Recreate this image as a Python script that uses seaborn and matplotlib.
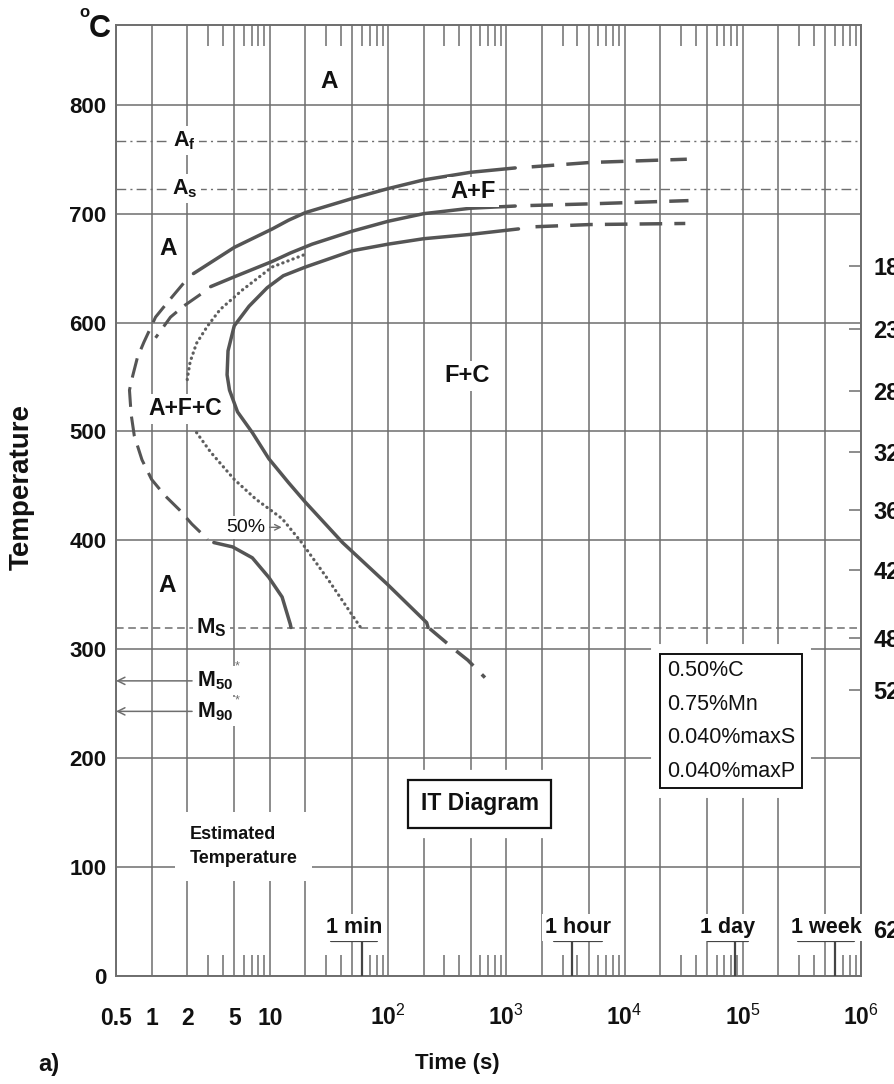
import matplotlib
matplotlib.use("Agg")
import matplotlib.pyplot as plt
import seaborn as sns
import numpy as np
from matplotlib import font_manager
from matplotlib.ticker import FixedLocator, FixedFormatter


def pick_family(candidates):
    for fam in candidates:
        try:
            font_manager.findfont(font_manager.FontProperties(family=fam),
                                  fallback_to_default=False)
            return fam
        except Exception:
            continue
    return "DejaVu Sans"


NARROW = pick_family(["Liberation Sans Narrow", "Liberation Sans", "DejaVu Sans"])
WIDE = pick_family(["Liberation Sans", "DejaVu Sans"])

# ---------------- data (time in s, temperature in °C) ----------------
# ferrite start: solid part, long-dash extension to the right
fs_t = [2.26, 5, 10.5, 14.4, 20, 50, 100, 200, 500, 1190]
fs_T = [645, 669, 686, 694, 701, 714, 723, 731, 738, 742]
fs_ext_t = [1640, 5090, 33650]
fs_ext_T = [743, 747, 750]

# estimated start curve through the nose (dashed) down to bainite start
nose_t = [1.86, 1.35, 1.08, 0.861, 0.759, 0.692, 0.650, 0.671, 0.714, 0.829,
          1.0, 1.30, 1.72, 2.19, 2.98]
nose_T = [636, 618, 605, 582, 568, 551, 538, 516, 496, 474,
          456, 441, 428, 415, 401]
bs_t = [3.36, 4.85, 7.11, 9.81, 12.7, 14.9, 15.1]
bs_T = [398, 394, 384, 366, 348, 323, 320]

# pearlite start
ps_t = [3.16, 5, 10.4, 15, 22.8, 50, 100, 200, 500, 1190]
ps_T = [633, 642, 656, 664, 672, 684, 693, 700, 705, 707]
ps_ext_t = [1600, 5090, 34750]
ps_ext_T = [707.5, 709, 712]
ps_left_t = [2.6, 1.86, 1.445, 1.08]
ps_left_T = [626, 615, 605, 586]

# transformation finish
fin_t = [1268, 500, 200, 100, 50, 20, 13, 9.5, 6.67, 5.0, 4.43, 4.35, 4.56,
         5.33, 7.11, 9.81, 14.4, 20, 41.2, 98, 212, 218]
fin_T = [686, 681, 677, 672, 666, 651, 643, 632, 615, 597, 574, 552, 538,
         518, 499, 475, 453, 435, 398, 360, 324.5, 320]
fin_ext_t = [1766, 5090, 32650]
fin_ext_T = [688, 690, 691]
fin_low_t = [225, 372, 473, 660]
fin_low_T = [319, 299, 290, 274]

# 50 % transformation (dotted)
half_up_t = [19.2, 10.45, 5.87, 3.8, 2.98, 2.40, 2.12, 2.0, 2.03]
half_up_T = [662, 651, 630, 612, 597, 581, 564, 548, 545]
half_lo_t = [2.40, 3.16, 5.0, 7.59, 12.7, 18.6, 31.6, 58.6]
half_lo_T = [499, 481, 456, 438, 420, 398, 363, 320]

# critical temperatures
A_F, A_S, M_S, M_50, M_90 = 767, 723, 320, 271, 243

# hardness (HRC) scale on the right
hrc_T = [652, 594, 537, 481, 428, 373, 310, 263, 43]
hrc_labels = ["18", "23", "28", "32", "36", "42", "48", "52", "62"]

# time scale landmarks
mark_labels = ["1 min", "1 hour", "1 day", "1 week"]
mark_t = [60, 3600, 86400, 604800]
mark_left = [33, 2540, 50900, 293000]
mark_right = [80, 6460, 110300, 881000]
mark_level = 32

x_major = [0.5, 1, 2, 5, 10, 20, 50, 100, 200, 500, 1e3, 2e3, 5e3,
           1e4, 2e4, 5e4, 1e5, 2e5, 5e5, 1e6]
x_labels = ["0.5", "1", "2", "5", "10", "", "", r"$\mathbf{10}^{\mathrm{2}}$", "", "",
            r"$\mathbf{10}^{\mathrm{3}}$", "", "", r"$\mathbf{10}^{\mathrm{4}}$", "", "",
            r"$\mathbf{10}^{\mathrm{5}}$", "", "", r"$\mathbf{10}^{\mathrm{6}}$"]
x_minor = [m * 10.0 ** k for k in range(0, 6) for m in (3, 4, 6, 7, 8, 9)]
y_major = [0, 100, 200, 300, 400, 500, 600, 700, 800]

composition = "0.50%C\n0.75%Mn\n0.040%maxS\n0.040%maxP"

# ---------------- styling ----------------
sns.set_theme(style="white")
plt.rcParams["font.family"] = [NARROW, "DejaVu Sans"]
plt.rcParams["mathtext.fontset"] = "custom"
plt.rcParams["mathtext.rm"] = NARROW
plt.rcParams["mathtext.bf"] = NARROW + ":bold"
plt.rcParams["mathtext.it"] = NARROW + ":italic"

GRID = "#6e6e6e"
CURVE = "#555555"
INK = "#111111"
white_box = dict(boxstyle="square,pad=0.15", fc="white", ec="none")

fig = plt.figure(figsize=(8.95, 10.84), dpi=100, facecolor="white")
ax = fig.add_axes([116 / 895, 1 - 976 / 1084, 745 / 895, 951.5 / 1084])
ax.set_facecolor("white")
ax.set_xscale("log")
ax.set_xlim(0.5, 1e6)
ax.set_ylim(0, 873.7)

ax.xaxis.set_major_locator(FixedLocator(x_major))
ax.xaxis.set_major_formatter(FixedFormatter(x_labels))
ax.xaxis.set_minor_locator(FixedLocator(x_minor))
ax.yaxis.set_major_locator(FixedLocator(y_major))
ax.set_yticklabels([str(v) for v in y_major])

ax.grid(True, which="major", color=GRID, lw=1.1)
ax.set_axisbelow(True)
ax.tick_params(which="major", length=0)
ax.tick_params(axis="y", pad=7, labelsize=16, labelcolor=INK)
ax.tick_params(axis="x", which="major", pad=35, labelsize=16.5, labelcolor=INK)
ax.tick_params(axis="x", which="minor", direction="in", length=15, width=1.1,
               color=GRID, top=True, bottom=True)
for lbl in ax.get_yticklabels():
    lbl.set_fontweight("bold")
for lbl in ax.get_xticklabels():
    lbl.set_fontweight("bold")
    lbl.set_va("baseline")
for s in ax.spines.values():
    s.set_color(GRID)
    s.set_linewidth(1.4)

# ---------------- curves ----------------
solid = dict(color=CURVE, linewidth=2.5)
long_dash = dict(color=CURVE, linewidth=2.5, linestyle=(0, (6.5, 3.5)))
left_dash = dict(color=CURVE, linewidth=2.2, linestyle=(0, (6.5, 3.2)))
dotted = dict(color="#5e5e5e", linewidth=2.3, linestyle=(0, (0.1, 1.6)),
              dash_capstyle="round")


def curve(t, T, **kw):
    sns.lineplot(x=t, y=T, ax=ax, sort=False, estimator=None, legend=False, **kw)


curve(fs_t, fs_T, **solid)
curve(fs_ext_t, fs_ext_T, **long_dash)
curve(nose_t, nose_T, **left_dash)
curve(bs_t, bs_T, **solid)
curve(ps_t, ps_T, **solid)
curve(ps_ext_t, ps_ext_T, **long_dash)
curve(ps_left_t, ps_left_T, **left_dash)
curve(fin_t, fin_T, **solid)
curve(fin_ext_t, fin_ext_T, **long_dash)
curve(fin_low_t, fin_low_T, **long_dash)
curve(half_up_t, half_up_T, **dotted)
curve(half_lo_t, half_lo_T, **dotted)

# critical temperature lines
ax.axhline(A_F, color=GRID, lw=1.0, linestyle=(0, (7, 3, 1.5, 3)), zorder=1.5)
ax.axhline(A_S, color=GRID, lw=1.0, linestyle=(0, (7, 3, 1.5, 3)), zorder=1.5)
ax.axhline(M_S, color=GRID, lw=1.1, linestyle=(0, (5, 3)), zorder=1.5)

# ---------------- labels in the field ----------------
def label(t, T, s, size=17.5, weight="bold", **kw):
    ax.text(t, T, s, ha=kw.pop("ha", "center"), va=kw.pop("va", "center"),
            fontsize=size, fontweight=weight, color=INK, bbox=white_box,
            zorder=4, **kw)


label(31.7, 821, "A")
label(1.38, 668, "A")
label(1.35, 359, "A")
label(1.92, 521, "A+F+C", size=16.5)
label(466, 551, "F+C", size=17)
label(524, 720, "A+F", size=17)
label(1.91, A_F, r"$\mathbf{A_f}$", size=15.5)
label(1.91, A_S, r"$\mathbf{A_s}$", size=15.5)
label(3.19, M_S, r"$\mathbf{M_S}$", size=16)
label(2.4, M_50, r"$\mathbf{M_{50}}$", size=15.5, ha="left")
label(2.4, M_90, r"$\mathbf{M_{90}}$", size=15.5, ha="left")
ax.text(5.3, 284, "*", ha="center", va="center", fontsize=9, color=GRID, zorder=4)
ax.text(5.3, 253, "*", ha="center", va="center", fontsize=9, color=GRID, zorder=4)

for level in (M_50, M_90):
    ax.annotate("", xy=(0.5, level), xytext=(2.2, level),
                arrowprops=dict(arrowstyle="->", color=GRID, lw=1.1,
                                mutation_scale=13, shrinkA=0, shrinkB=0))

label(6.3, 412, "50%", size=14, weight="normal")
ax.annotate("", xy=(12.6, 412), xytext=(8.9, 412),
            arrowprops=dict(arrowstyle="->", color=GRID, lw=1.0,
                            mutation_scale=10, shrinkA=0, shrinkB=0))

ax.text(1.8, 136, "*", ha="center", va="center", fontsize=9, color=GRID, zorder=4)
ax.text(2.1, 119, "Estimated\nTemperature", ha="left", va="center", fontsize=13,
        fontweight="bold", color=INK, linespacing=1.5, zorder=4,
        bbox=dict(boxstyle="square,pad=0.8", fc="white", ec="none"))

for face, edge, pad in (("white", "white", 0.95), ("white", INK, 0.55)):
    ax.text(594, 158, "IT Diagram", ha="center", va="center", fontsize=16.5,
            fontweight="bold", color=INK, zorder=4,
            bbox=dict(boxstyle=f"square,pad={pad}", fc=face, ec=edge, lw=1.6))

for face, edge, pad in (("white", "white", 0.7), ("white", INK, 0.3)):
    ax.text(79600, 234, composition, ha="center", va="center", ma="left",
            fontsize=15.5, color=INK, linespacing=1.78, zorder=4,
            bbox=dict(boxstyle=f"square,pad={pad}", fc=face, ec=edge, lw=1.4))

# time landmarks along the bottom
for name, tm, lo, hi in zip(mark_labels, mark_t, mark_left, mark_right):
    ax.plot([tm, tm], [0, mark_level], color="#444444", lw=1.6, zorder=3)
    ax.plot([lo, hi], [mark_level, mark_level], color="#444444", lw=1.6, zorder=3)
    ax.text(np.sqrt(lo * hi), mark_level + 3, name, ha="center", va="bottom",
            fontsize=15.5, fontweight="bold", color=INK, zorder=4,
            bbox=dict(boxstyle="square,pad=0.15", fc="white", ec="none"))

# hardness scale on the right
rax = ax.twinx()
rax.set_ylim(ax.get_ylim())
rax.yaxis.set_major_locator(FixedLocator(hrc_T))
rax.set_yticklabels(hrc_labels)
rax.tick_params(axis="y", direction="in", length=9, width=1.1, color=GRID,
                pad=9, labelsize=17, labelcolor=INK)
for lbl in rax.get_yticklabels():
    lbl.set_fontweight("bold")
for s in rax.spines.values():
    s.set_visible(False)
rax.grid(False)
rax.yaxis.get_major_ticks()[-1].tick2line.set_visible(False)

# axis titles and corner marks
fig.text(79 / 895, 1 - 17 / 1084, "o", fontsize=12, fontweight="bold",
         color=INK, ha="left", va="baseline")
fig.text(89 / 895, 1 - 37 / 1084, "C", fontsize=22, fontweight="bold",
         color=INK, ha="left", va="baseline")
fig.text(22 / 895, 1 - 487 / 1084, "Temperature", rotation=90, fontsize=20,
         fontweight="bold", family=[WIDE, "DejaVu Sans"], color=INK,
         ha="center", va="center")
fig.text(457 / 895, 1 - 1063 / 1084, "Time (s)", fontsize=16, fontweight="bold",
         color=INK, ha="center", va="center")
fig.text(49 / 895, 1 - 1065 / 1084, "a)", fontsize=17, fontweight="bold",
         color=INK, ha="center", va="center")

fig.savefig("out.png", dpi=100, facecolor="white")
